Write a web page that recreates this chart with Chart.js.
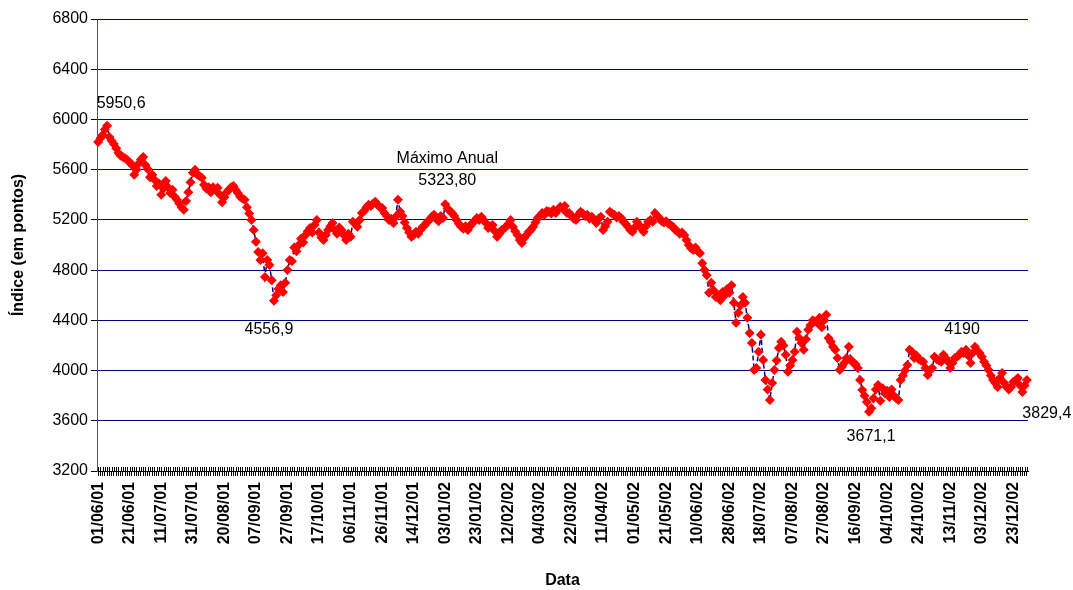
<!DOCTYPE html>
<html>
<head>
<meta charset="utf-8">
<script src="https://cdn.jsdelivr.net/npm/chart.js@4.4.1/dist/chart.umd.min.js"></script>
<style>
  html, body { margin: 0; padding: 0; background: #fff; }
</style>
</head>
<body>
<canvas id="graficoIndice" width="1073" height="590"></canvas>
<script>
// rotulos do eixo X (um a cada 14 pregoes)
const rotulosData = [
  "01/06/01", "21/06/01", "11/07/01", "31/07/01", "20/08/01", "07/09/01",
  "27/09/01", "17/10/01", "06/11/01", "26/11/01", "14/12/01", "03/01/02",
  "23/01/02", "12/02/02", "04/03/02", "22/03/02", "11/04/02", "01/05/02",
  "21/05/02", "10/06/02", "28/06/02", "18/07/02", "07/08/02", "27/08/02",
  "16/09/02", "04/10/02", "24/10/02", "13/11/02", "03/12/02", "23/12/02"
];
const pregoesPorRotulo = 14;

// fechamento diario do indice (pontos)
const indice = [
  5820, 5850, 5876, 5920, 5950.6, 5860, 5830, 5805, 5770, 5733,
  5710, 5700, 5690, 5675, 5660, 5637, 5560, 5600, 5650, 5680,
  5700, 5637, 5605, 5540, 5560, 5520, 5470, 5490, 5400, 5450,
  5510, 5460, 5415, 5440, 5385, 5360, 5330, 5300, 5280, 5350,
  5420, 5500, 5575, 5600, 5560, 5550, 5535, 5480, 5450, 5460,
  5420, 5460, 5440, 5455, 5400, 5340, 5380, 5420, 5440, 5460,
  5470, 5440, 5415, 5385, 5370, 5360, 5300, 5250, 5200, 5120,
  5025, 4945, 4880, 4935, 4745, 4880, 4840, 4720, 4556.9, 4600,
  4650, 4680, 4625, 4700, 4800, 4880, 4870, 4980, 4950, 5000,
  5050, 5020, 5080, 5110, 5135, 5100, 5160, 5200, 5100, 5060,
  5040, 5080, 5120, 5150, 5175, 5120, 5090, 5140, 5120, 5080,
  5040, 5090, 5065, 5185, 5170, 5145, 5200, 5255, 5270, 5300,
  5320, 5310, 5330, 5345, 5320, 5300, 5295, 5255, 5230, 5200,
  5210, 5175, 5225, 5360, 5265, 5230, 5180, 5135, 5100, 5065,
  5080, 5105, 5090, 5120, 5145, 5160, 5185, 5200, 5225, 5240,
  5210, 5190, 5230, 5215, 5323.8, 5290, 5270, 5255, 5230, 5200,
  5170, 5145, 5130, 5150, 5120, 5150, 5175, 5190, 5215, 5200,
  5225, 5200, 5175, 5135, 5150, 5160, 5110, 5065, 5090, 5120,
  5130, 5145, 5170, 5200, 5145, 5110, 5080, 5040, 5015, 5055,
  5080, 5105, 5120, 5145, 5180, 5215, 5230, 5255, 5240, 5270,
  5265, 5250, 5280, 5255, 5280, 5305, 5290, 5310, 5255, 5255,
  5230, 5210, 5200, 5240, 5265, 5250, 5230, 5240, 5210, 5225,
  5200, 5175, 5210, 5225, 5120, 5150, 5185, 5265, 5250, 5240,
  5220, 5230, 5215, 5185, 5170, 5145, 5120, 5105, 5140, 5185,
  5160, 5130, 5105, 5150, 5185, 5200, 5185, 5255, 5230, 5215,
  5190, 5180, 5190, 5170, 5160, 5145, 5120, 5110, 5090, 5100,
  5080, 5040, 5000, 4975, 4960, 4980, 4950, 4935, 4855, 4800,
  4760, 4620, 4700, 4640, 4585, 4600, 4560, 4625, 4600, 4650,
  4620, 4680, 4540, 4380, 4460, 4520, 4585, 4540, 4420, 4300,
  4220, 4005, 4020, 4150, 4285, 4085, 3925, 3850, 3765, 3900,
  4005, 4080, 4180, 4230, 4200, 4125, 3990, 4040, 4085, 4150,
  4310, 4260, 4220, 4165, 4250, 4325, 4360, 4400, 4390, 4380,
  4420, 4345, 4400, 4445, 4260, 4230, 4190, 4165, 4100, 4005,
  4030, 4060, 4100, 4190, 4085, 4060, 4050, 4020, 3925, 3845,
  3800, 3750, 3671.1, 3700, 3780, 3850, 3885, 3760, 3860, 3820,
  3840, 3790, 3850, 3800, 3780, 3765, 3925, 3960, 4000, 4045,
  4165, 4150, 4100, 4120, 4090, 4080, 4070, 4020, 3965, 4000,
  4020, 4110, 4090, 4080, 4070, 4125, 4100, 4070, 4020, 4060,
  4100, 4110, 4125, 4150, 4140, 4165, 4120, 4060, 4140, 4190,
  4160, 4140, 4110, 4070, 4040, 4005, 3960, 3925, 3900, 3870,
  3940, 3980, 3900, 3870, 3850, 3870, 3910, 3920, 3940, 3880,
  3829.4, 3880, 3925
];

// escala Y
const yMin = 3200, yMax = 6800, yPasso = 400;

// destaques escritos no grafico
const destaquePonto = [4, 78, 154, 342, 389, 410];
const destaqueTexto = [["5950,6"], ["4556,9"], ["Máximo Anual", "5323,80"], ["3671,1"], ["4190"], ["3829,4"]];
// deslocamento do texto em relacao ao ponto (px) e alinhamento
const destaqueDx = [14, -5, 2, 2, -13, 0];
const destaqueDy = [-22, 29, -46, 25, -17, 22];
const destaqueAlinha = ["center", "center", "center", "center", "center", "left"];

const fonte = "'Liberation Sans', Arial, sans-serif";

const categorias = indice.map((v, i) => i % pregoesPorRotulo === 0 ? (rotulosData[i / pregoesPorRotulo] || "") : "");

const marcasCruzadas = {
  id: "marcasCruzadas",
  beforeDatasetsDraw(chart) {
    const x = chart.scales.x;
    const ctx = chart.ctx;
    ctx.save();
    ctx.strokeStyle = "#000";
    ctx.lineWidth = 1;
    ctx.beginPath();
    for (let i = 0; i < indice.length; i++) {
      const px = Math.round(x.getPixelForValue(i)) + 0.5;
      ctx.moveTo(px, x.top - 4);
      ctx.lineTo(px, x.top);
    }
    ctx.stroke();
    ctx.restore();
  }
};

const destaques = {
  id: "destaques",
  afterDatasetsDraw(chart) {
    const meta = chart.getDatasetMeta(0);
    const ctx = chart.ctx;
    ctx.save();
    ctx.fillStyle = "#000";
    ctx.font = "16px " + fonte;
    ctx.textBaseline = "middle";
    for (let k = 0; k < destaquePonto.length; k++) {
      const p = meta.data[destaquePonto[k]];
      ctx.textAlign = destaqueAlinha[k];
      destaqueTexto[k].forEach((linha, j) => {
        ctx.fillText(linha, p.x + destaqueDx[k], p.y + destaqueDy[k] + j * 22);
      });
    }
    ctx.restore();
  }
};

const data = {
  labels: categorias,
  datasets: [{
    label: "Índice",
    data: indice,
    borderColor: "#000080",
    borderWidth: 1.5,
    borderDash: [5, 3],
    pointStyle: "rectRot",
    pointRadius: 5,
    pointBackgroundColor: "#ff0000",
    pointBorderWidth: 0,
    tension: 0
  }]
};

const config = {
  type: "line",
  data: data,
  plugins: [marcasCruzadas, destaques],
  options: {
    responsive: false,
    animation: false,
    devicePixelRatio: 1,
    layout: { padding: { top: 19, right: 45, left: 9, bottom: 0 } },
    plugins: {
      legend: { display: false },
      tooltip: { enabled: false }
    },
    scales: {
      x: {
        type: "category",
        offset: true,
        grid: { drawOnChartArea: false, color: "#000", tickColor: "#000", tickLength: 5, offset: false },
        border: { color: "#000", width: 1 },
        ticks: {
          autoSkip: false,
          maxRotation: 90,
          minRotation: 90,
          padding: 6,
          color: "#000",
          font: { family: fonte, size: 16, weight: "bold" }
        },
        title: {
          display: true,
          text: "Data",
          color: "#000",
          font: { family: fonte, size: 16, weight: "bold" },
          padding: { top: 0, bottom: 0 }
        },
        afterFit(s) { s.height = 119; }
      },
      y: {
        min: yMin,
        max: yMax,
        ticks: {
          stepSize: yPasso,
          padding: 3,
          color: "#000",
          font: { family: fonte, size: 16 },
          callback: (v) => String(v)
        },
        grid: { color: "#000080", tickColor: "#000", tickLength: 6 },
        border: { color: "#555", width: 1 },
        title: {
          display: true,
          text: "Índice (em pontos)",
          color: "#000",
          font: { family: fonte, size: 16, weight: "bold" },
          padding: { top: 0, bottom: 0 }
        },
        afterFit(s) { s.width = 88; }
      }
    }
  }
};

const meuGrafico = new Chart(document.getElementById("graficoIndice"), config);
</script>
</body>
</html>
